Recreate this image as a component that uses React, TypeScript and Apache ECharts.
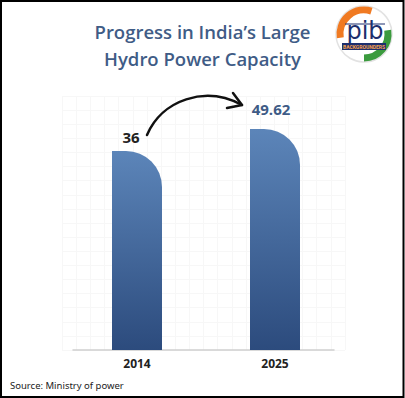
import React, { useEffect, useRef } from "react";
import * as echarts from "echarts";

const categories = ["2014", "2025"];
const capacityGW = [36, 49.62];
const valueLabels = ["36", "49.62"];
const titleLines = ["Progress in India’s Large", "Hydro Power Capacity"];
const sourceText = "Source: Ministry of power";

export default function App() {
  const ref = useRef<HTMLDivElement>(null);
  useEffect(() => {
    if (!ref.current) return;
    const chart = echarts.init(ref.current, undefined, { renderer: "svg" });
    const barGradient = new echarts.graphic.LinearGradient(0, 0, 0, 1, [
      { offset: 0, color: "#5c85b9" },
      { offset: 1, color: "#2c4b7d" },
    ]);
    const labelColors = ["#222222", "#3e5b86"];
    const labelOffsets = [[-6, -1], [-4, -7]];
    chart.setOption({
      animation: false,
      backgroundColor: "#ffffff",
      title: {
        text: titleLines.join("\n"),
        left: "center",
        top: 13,
        textStyle: {
          fontFamily: "Open Sans",
          fontSize: 18.5,
          fontWeight: 600,
          color: "#3f5c86",
          lineHeight: 27,
        },
      },
      grid: [
        { left: 68, right: 61, top: 100, bottom: 48 },
        { left: 73, right: 71, top: 100, bottom: 48 },
        { left: 62, right: 60, top: 96, bottom: 48 },
      ],
      xAxis: [
        {
          type: "category",
          gridIndex: 0,
          data: categories,
          axisLine: { show: false },
          axisTick: { show: false },
          axisLabel: {
            margin: 7,
            fontFamily: "Open Sans",
            fontSize: 12,
            fontWeight: 700,
            color: "#222222",
          },
        },
        {
          type: "category",
          gridIndex: 1,
          data: categories,
          offset: 3,
          axisLine: { show: true, lineStyle: { color: "#cfcfcf", width: 1.5 } },
          axisTick: { show: false },
          axisLabel: { show: false },
        },
        {
          type: "value",
          gridIndex: 2,
          min: 0,
          max: 280,
          interval: 14,
          axisLine: { show: false },
          axisTick: { show: false },
          axisLabel: { show: false },
          splitLine: { show: true, lineStyle: { color: "#f7f7f7", width: 1 } },
        },
      ],
      yAxis: [
        {
          type: "log",
          gridIndex: 0,
          min: 2,
          max: 75.5,
          show: false,
        },
        { type: "value", gridIndex: 1, show: false },
        {
          type: "value",
          gridIndex: 2,
          min: 0,
          max: 252,
          interval: 14,
          axisLine: { show: false },
          axisTick: { show: false },
          axisLabel: { show: false },
          splitLine: { show: true, lineStyle: { color: "#f7f7f7", width: 1 } },
        },
      ],
      series: [
        {
          type: "bar",
          xAxisIndex: 0,
          yAxisIndex: 0,
          barWidth: 50,
          clip: true,
          z: 5,
          data: capacityGW.map((v, i) => ({
            value: v,
            label: {
              show: true,
              position: "top",
              offset: labelOffsets[i],
              formatter: valueLabels[i],
              fontFamily: "Open Sans",
              fontSize: 15,
              fontWeight: 700,
              color: labelColors[i],
            },
          })),
          itemStyle: {
            color: barGradient,
            borderRadius: [0, 36, 0, 0],
          },
        },
      ],
      graphic: [
        {
          type: "rect",
          shape: { x: 1, y: 1, width: 402.5, height: 396 },
          style: { fill: "none", stroke: "#000000", lineWidth: 2 },
          z: 100,
        },
        {
          type: "bezierCurve",
          shape: { x1: 147, y1: 135, cpx1: 162, cpy1: 100, cpx2: 205, cpy2: 85, x2: 242, y2: 105 },
          style: { stroke: "#111111", lineWidth: 2.5, fill: "none", lineCap: "round" },
          z: 10,
        },
        {
          type: "polyline",
          shape: { points: [[233, 93], [242, 105], [227, 108]] },
          style: { stroke: "#111111", lineWidth: 2.5, fill: "none", lineCap: "round", lineJoin: "round" },
          z: 10,
        },
        {
          type: "text",
          left: 10,
          top: 380,
          style: {
            text: sourceText,
            fontFamily: "Noto Sans",
            fontSize: 9.5,
            fill: "#222222",
          },
        },
        {
          type: "group",
          x: 364,
          y: 34,
          children: [
            { type: "circle", shape: { cx: 0, cy: 0, r: 28 }, style: { fill: "#ffffff", stroke: "#e2e2e2", lineWidth: 1.5 } },
            { type: "arc", shape: { cx: 0, cy: 0, r: 24, startAngle: Math.PI * 0.95, endAngle: Math.PI * 1.6 }, style: { stroke: "#f07a22", lineWidth: 7, fill: "none" } },
            { type: "arc", shape: { cx: 0, cy: 0, r: 24, startAngle: Math.PI * 1.95, endAngle: Math.PI * 2.5 }, style: { stroke: "#3b9b3e", lineWidth: 7, fill: "none" } },
            { type: "line", shape: { x1: -19, y1: -10, x2: 21, y2: -10 }, style: { stroke: "#1d2f6e", lineWidth: 1 } },
            { type: "text", style: { text: "pib", x: 1, y: -3, align: "center", verticalAlign: "middle", fontFamily: "DejaVu Sans", fontSize: 24, fill: "#1d2f6e" } },
            { type: "rect", shape: { x: -22, y: 9, width: 44, height: 7 }, style: { fill: "#1d2f6e" } },
            { type: "text", style: { text: "BACKGROUNDERS", x: 0, y: 12.5, align: "center", verticalAlign: "middle", fontFamily: "Roboto", fontSize: 5, fontWeight: 700, fill: "#f6a04d" } },
          ],
          z: 20,
        },
      ],
    });
    return () => chart.dispose();
  }, []);
  return <div ref={ref} style={{ position: "fixed", left: 0, top: 0, width: 405, height: 398 }} />;
}
